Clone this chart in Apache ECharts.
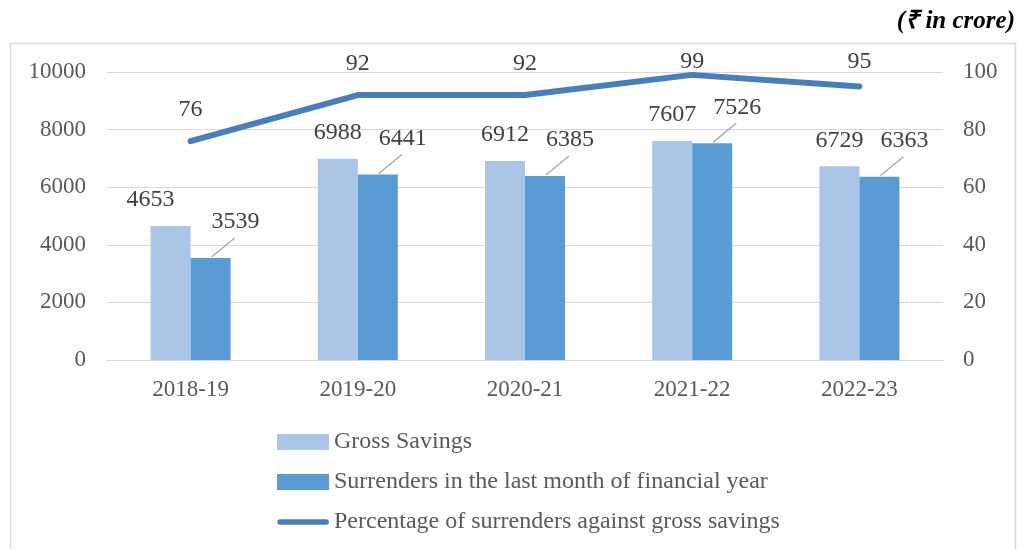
<!DOCTYPE html>
<html>
<head>
<meta charset="utf-8">
<script src="https://cdn.jsdelivr.net/npm/echarts@6/dist/echarts.min.js"></script>
<style>
  html, body { margin: 0; padding: 0; background: #fff; }
  #chart { width: 1026px; height: 549px; }
</style>
</head>
<body>
<div id="chart"></div>
<script>
  var years = ['2018-19', '2019-20', '2020-21', '2021-22', '2022-23']
  var grossSavings = [4653, 6988, 6912, 7607, 6729]
  var surrenders = [3539, 6441, 6385, 7526, 6363]
  var percentage = [76, 92, 92, 99, 95]

  var font = 'Liberation Serif, Times New Roman, serif'
  var textColor = '#404040'
  var axisColor = '#595959'

  // legend icon: thick round-capped line inside a 52x16 box
  var lineIcon = 'path://M0,0 L0,0 M0,16 L0,16 M3,5.2 L49,5.2 A2.8,2.8 0 0 1 49,10.8 L3,10.8 A2.8,2.8 0 0 1 3,5.2 Z'

  function plain(v) {
    return String(v)
  }

  var chart = echarts.init(document.getElementById('chart'))
  chart.setOption({
    animation: false,
    textStyle: { fontFamily: font },
    graphic: [
      {
        type: 'rect',
        shape: { x: 10.5, y: 43.5, width: 1005, height: 520 },
        style: { fill: 'none', stroke: '#d9d9d9', lineWidth: 1.5 }
      },
      {
        type: 'text',
        right: 11,
        top: 9,
        style: {
          text: '(\u20b9 in crore)',
          font: 'italic bold 25px ' + font,
          fill: '#000'
        }
      }
    ],
    grid: { left: 107, right: 83, top: 72, bottom: 189 },
    legend: {
      orient: 'vertical',
      left: 272,
      top: 425,
      itemWidth: 52,
      itemHeight: 16,
      itemGap: 16,
      textStyle: { fontSize: 24, lineHeight: 24, color: axisColor, fontFamily: font },
      data: [
        { name: 'Gross Savings', icon: 'rect' },
        { name: 'Surrenders in the last month of financial year', icon: 'rect' },
        { name: 'Percentage of surrenders against gross savings', icon: lineIcon }
      ]
    },
    xAxis: {
      type: 'category',
      data: years,
      axisLine: { lineStyle: { color: '#d9d9d9' } },
      axisTick: { show: false },
      axisLabel: { fontSize: 23, color: axisColor, margin: 18 }
    },
    yAxis: [
      {
        type: 'value',
        min: 0,
        max: 10000,
        interval: 2000,
        axisLabel: { fontSize: 23, color: axisColor, margin: 21, formatter: plain },
        splitLine: { lineStyle: { color: '#d9d9d9' } }
      },
      {
        type: 'value',
        min: 0,
        max: 100,
        interval: 20,
        axisLabel: { fontSize: 23, color: axisColor, margin: 20, formatter: plain },
        splitLine: { show: false }
      }
    ],
    series: [
      {
        name: 'Gross Savings',
        type: 'bar',
        data: grossSavings,
        barWidth: 40,
        barGap: '0%',
        itemStyle: { color: '#abc5e7' },
        label: { show: true, position: 'top', fontSize: 24, color: textColor },
        labelLayout: function (p) {
          return {
            x: p.rect.x + p.rect.width / 2 + (p.dataIndex === 0 ? -20 : 0),
            y: p.rect.y - 26,
            align: 'center',
            verticalAlign: 'middle'
          }
        }
      },
      {
        name: 'Surrenders in the last month of financial year',
        type: 'bar',
        data: surrenders,
        barWidth: 40,
        itemStyle: { color: '#5b9bd5' },
        label: { show: true, position: 'top', fontSize: 24, color: textColor },
        labelLayout: function (p) {
          return {
            x: p.rect.x + p.rect.width / 2 + 25,
            y: p.rect.y - 36,
            align: 'center',
            verticalAlign: 'middle'
          }
        }
      },
      {
        // leader lines from surrender bars to their labels
        type: 'custom',
        silent: true,
        z: 5,
        data: surrenders.map(function (v, i) { return [i, v] }),
        renderItem: function (params, api) {
          var p = api.coord([api.value(0), api.value(1)])
          var x = p[0] + 21
          var y = p[1] - 1
          return {
            type: 'line',
            shape: { x1: x, y1: y, x2: x + 23, y2: y - 19 },
            style: { stroke: '#a6a6a6', lineWidth: 1.3 }
          }
        }
      },
      {
        name: 'Percentage of surrenders against gross savings',
        type: 'line',
        yAxisIndex: 1,
        data: percentage,
        symbol: 'circle',
        symbolSize: 2,
        showSymbol: true,
        lineStyle: { color: '#4a7ebb', width: 6, cap: 'round', join: 'round' },
        itemStyle: { color: '#4a7ebb' },
        label: { show: true, position: 'top', fontSize: 24, color: textColor },
        labelLayout: function (p) {
          var cy = p.rect.y + p.rect.height / 2
          return {
            x: p.rect.x + p.rect.width / 2,
            y: Math.max(cy - 31, 62),
            align: 'center',
            verticalAlign: 'middle'
          }
        }
      }
    ]
  })
</script>
</body>
</html>
